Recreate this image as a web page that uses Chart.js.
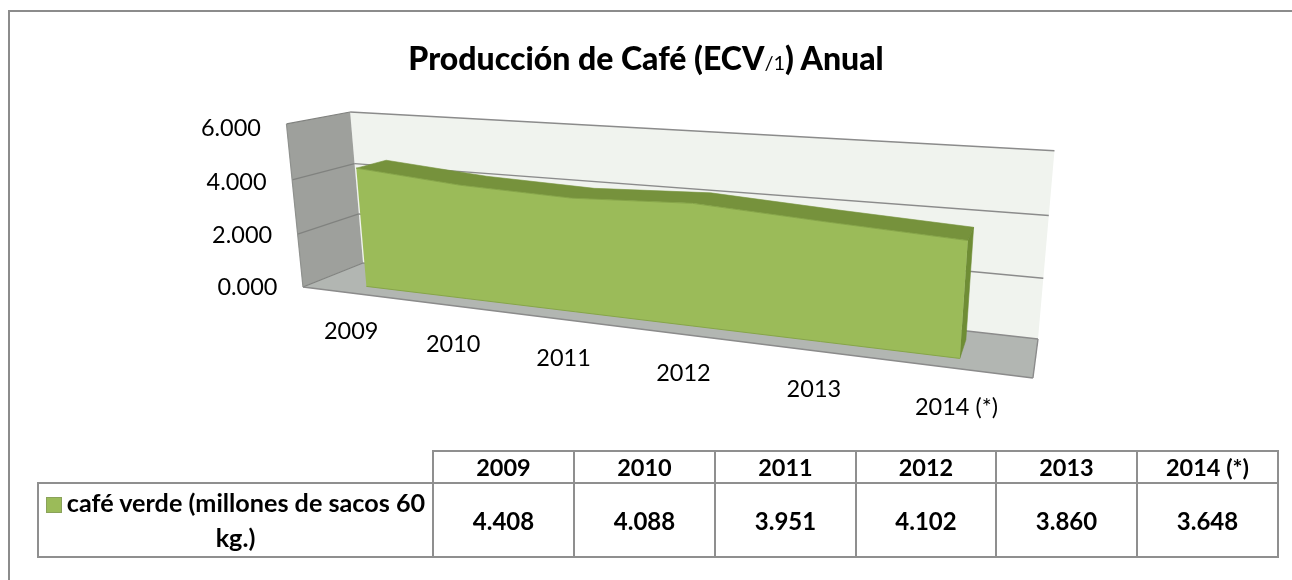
<!DOCTYPE html>
<html lang="es">
<head>
<meta charset="utf-8">
<title>Producción de Café</title>
<script src="https://cdn.jsdelivr.net/npm/chart.js@4"></script>
<style>
html,body{margin:0;padding:0;background:#fff;width:1292px;height:580px;overflow:hidden;font-family:Lato,sans-serif;color:#000}
#wrap{position:relative;width:1292px;height:580px}
canvas{position:absolute;left:0;top:0}
#frameT{position:absolute;left:8px;top:10px;width:1284px;height:2px;background:#8c8c8c}
#frameL{position:absolute;left:8px;top:10px;width:2px;height:570px;background:#8c8c8c}
#title{position:absolute;left:0;width:1292px;top:38px;text-align:center;font-weight:900;font-size:32px;line-height:40px;white-space:nowrap}
#title small{font-size:20px;font-weight:400}
table{position:absolute;left:37px;top:450px;border-collapse:collapse;table-layout:fixed;width:1240px;font-weight:700;font-size:24px;text-align:center}
td{border:2px solid #8f8f8f;padding:0}
td.blank{border:0;border-right:2px solid #8f8f8f;border-bottom:2px solid #8f8f8f}
tr.h{height:32px} tr.h td{line-height:30px;font-size:23.5px}
tr.v{height:74px}
td.name{font-size:25.2px;line-height:35px}
.key{display:inline-block;width:16px;height:16px;background:#9BBB59;border:1px solid #8aa25a;box-sizing:border-box;margin-right:5px;vertical-align:-1px}
</style>
</head>
<body>
<div id="wrap">
<canvas id="c" width="1292" height="580"></canvas>
<div id="frameT"></div><div id="frameL"></div>
<div id="title">Producción de Café (ECV<small>/1</small>) Anual</div>
<table id="t"></table>
</div>
<script>
const categories = ['2009','2010','2011','2012','2013','2014 (*)'];
const cafeVerde = [4408,4088,3951,4102,3860,3648];
const baseline = [0,0,0,0,0,0];
const seriesName = 'café verde (millones de sacos 60 kg.)';
const fmt = v => (v/1000).toFixed(3);

// perspective of the 3-D box: u along categories, v along values, d into depth
function project(u,v,d){
  const w = 1 - .2226*u - .04*v + .0831*d;
  return {x:(303 + 500*u - 28*v + 90.2*d)/w, y:(287 + 6.86*u - 168*v - 2.14*d)/w};
}
function poly(ctx,pts,fill,stroke,lw){
  ctx.beginPath();
  pts.forEach((p,i)=> i?ctx.lineTo(p.x,p.y):ctx.moveTo(p.x,p.y));
  ctx.closePath();
  if(fill){ctx.fillStyle=fill;ctx.fill();}
  if(stroke){ctx.strokeStyle=stroke;ctx.lineWidth=lw||1;ctx.stroke();}
}
function seg(ctx,a,b,color,lw){
  ctx.beginPath();ctx.moveTo(a.x,a.y);ctx.lineTo(b.x,b.y);ctx.strokeStyle=color;ctx.lineWidth=lw;ctx.stroke();
}
const box3d = {
  id:'box3d',
  afterDatasetsUpdate(chart){
    const a = chart.chartArea;
    chart.data.datasets.forEach((ds,i)=>{
      chart.getDatasetMeta(i).data.forEach(el=>{
        const p = project((el.x-a.left)/a.width,(a.bottom-el.y)/a.height,ds.depth);
        el.x=p.x; el.y=p.y;
      });
    });
  },
  beforeDraw(chart){
    const a = chart.chartArea, sx = chart.scales.x, sy = chart.scales.y;
    sx.getLabelItems().forEach((it,i)=>{
      const p = project((sx.getPixelForTick(i)-a.left)/a.width,0,0);
      it.textOffset=0;
      it.options.textAlign='center';it.options.textBaseline='middle';
      it.options.translation=[p.x,p.y+38.5];
    });
    sy.getLabelItems().forEach((it,i)=>{
      const v=(a.bottom-sy.getPixelForTick(i))/a.height;
      const p = project(0,v,0);
      it.textOffset=0;
      it.options.textAlign='right';it.options.textBaseline='middle';
      it.options.translation=[p.x-25.5,p.y+4*v];
    });
  },
  beforeDatasetsDraw(chart){
    const ctx = chart.ctx, a = chart.chartArea, sy = chart.scales.y;
    ctx.save();
    poly(ctx,[project(0,0,1),project(1,0,1),project(1,1,1),project(0,1,1)],'#F0F3EE');
    poly(ctx,[project(0,0,0),project(0,0,1),project(0,1,1),project(0,1,0)],'#9EA09C');
    poly(ctx,[project(0,0,0),project(1,0,0),project(1,0,1),project(0,0,1)],'#B2B6B2');
    sy.ticks.forEach(t=>{
      const v=(a.bottom-sy.getPixelForValue(t.value))/a.height;
      seg(ctx,project(0,v,1),project(1,v,1),'#8b8b8b',1.4);
      seg(ctx,project(0,v,0),project(0,v,1),'#80827f',1.2);
    });
    seg(ctx,project(0,0,0),project(1,0,0),'#8b8b8b',1.4);
    seg(ctx,project(1,0,0),project(1,0,1),'#8b8b8b',1.4);
    seg(ctx,project(0,0,0),project(0,1,0),'#8f918e',1.2);
    const pts = i => chart.getDatasetMeta(i).data;
    const rev = arr => arr.slice().reverse();
    const front=pts(0), base=pts(1), back=pts(2), backBase=pts(3), n=front.length-1;
    poly(ctx,[...front,...rev(back)],'#76923C','#76923C',.6);
    poly(ctx,[front[n],back[n],backBase[n],base[n]],'#6F8D35','#6F8D35',.6);
    poly(ctx,[...front,...rev(base)],'#9BBB59');
    ctx.restore();
  }
};
const hidden = {borderWidth:0,pointRadius:0,fill:false,clip:false};
new Chart(document.getElementById('c'),{
  type:'line',
  data:{labels:categories,datasets:[
    {label:seriesName,data:cafeVerde,depth:.25,borderColor:'#86A548',borderWidth:1,pointRadius:0,fill:false,clip:false},
    {label:'base',data:baseline,depth:.25,borderColor:'#86A548',borderWidth:1,pointRadius:0,fill:false,clip:false},
    {label:'fondo',data:cafeVerde,depth:.75,...hidden},
    {label:'base fondo',data:baseline,depth:.75,...hidden}
  ]},
  options:{
    responsive:false,animation:false,
    layout:{padding:0},
    plugins:{legend:{display:false},title:{display:false},tooltip:{enabled:false}},
    scales:{
      x:{offset:true,grid:{display:false},border:{display:false},
         afterFit(s){s.height=0;},
         ticks:{mirror:true,autoSkip:false,maxRotation:0,minRotation:0,color:'#000',font:{family:'Lato',size:23.5}}},
      y:{min:0,max:6000,grid:{display:false},border:{display:false},
         afterFit(s){s.width=0;},
         ticks:{mirror:true,stepSize:2000,color:'#000',font:{family:'Lato',size:23.5},callback:v=>fmt(v)}}
    }
  },
  plugins:[box3d]
});
// data table under the chart
const colW = [395,141,141,141,140,141,141];
let html = '<colgroup>'+colW.map(w=>`<col style="width:${w}px">`).join('')+'</colgroup>';
html += '<tr class="h"><td class="blank"></td>'+categories.map(c=>`<td>${c}</td>`).join('')+'</tr>';
html += `<tr class="v"><td class="name"><span class="key"></span>${seriesName}</td>`+cafeVerde.map(v=>`<td>${fmt(v)}</td>`).join('')+'</tr>';
document.getElementById('t').innerHTML = html;
</script>
</body>
</html>
